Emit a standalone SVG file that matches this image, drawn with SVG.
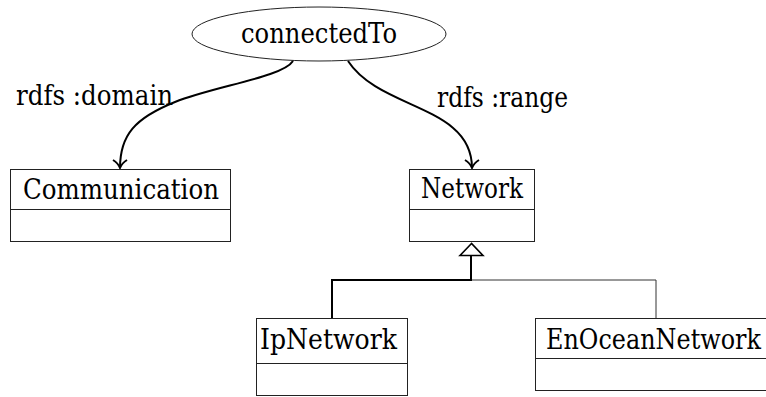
<svg xmlns="http://www.w3.org/2000/svg" width="766" height="397" viewBox="0 0 766 397">
<style>
.t{font-family:'DejaVu Serif','Liberation Serif',serif;font-size:27px;fill:#000}
.box{fill:#fff;stroke:#222;stroke-width:1}
.div{stroke:#222;stroke-width:1}
.assoc{fill:none;stroke:#000;stroke-width:2}
.thick{fill:none;stroke:#000;stroke-width:2}
.thin{fill:none;stroke:#333;stroke-width:1}
</style>
<defs>
<marker id="open" viewBox="0 0 10 16" refX="9" refY="8" markerWidth="10" markerHeight="16" markerUnits="userSpaceOnUse" orient="auto">
<path d="M1,1 Q4,6 9,8 Q4,10 1,15" fill="none" stroke="#000" stroke-width="2"/>
</marker>
</defs>
<g id="connectedTo">
<ellipse cx="319" cy="34" rx="127" ry="27" fill="#fff" stroke="#222" stroke-width="1"/>
<text class="t" x="241" y="43" textLength="156" lengthAdjust="spacingAndGlyphs">connectedTo</text>
</g>
<g id="Communication">
<rect class="box" x="10.5" y="169.5" width="220" height="72"/>
<line class="div" x1="10.5" y1="209.5" x2="230.5" y2="209.5"/>
<text class="t" x="23" y="199" textLength="196" lengthAdjust="spacingAndGlyphs">Communication</text>
</g>
<g id="Network">
<rect class="box" x="409.5" y="169.5" width="125" height="72"/>
<line class="div" x1="409.5" y1="209.5" x2="534.5" y2="209.5"/>
<text class="t" x="421" y="198" textLength="102" lengthAdjust="spacingAndGlyphs">Network</text>
</g>
<g id="IpNetwork">
<rect class="box" x="256.5" y="318.5" width="151" height="77"/>
<line class="div" x1="256.5" y1="363.5" x2="407.5" y2="363.5"/>
<text class="t" x="260" y="349" textLength="137" lengthAdjust="spacingAndGlyphs">IpNetwork</text>
</g>
<g id="EnOceanNetwork">
<rect class="box" x="535.5" y="318.5" width="240" height="72"/>
<line class="div" x1="535.5" y1="358.5" x2="775.5" y2="358.5"/>
<text class="t" x="546" y="349" textLength="215" lengthAdjust="spacingAndGlyphs">EnOceanNetwork</text>
</g>
<g id="connectors">
<path class="assoc" d="M293,61 C283,77 215,86 175,102 C135,118 120,135 120,168" marker-end="url(#open)"/>
<path class="assoc" d="M348,61 C380,110 472,105 472,168" marker-end="url(#open)"/>
<text class="t" x="16" y="105" textLength="157" lengthAdjust="spacingAndGlyphs">rdfs :domain</text>
<text class="t" x="437" y="107" textLength="131" lengthAdjust="spacingAndGlyphs">rdfs :range</text>
<path class="thin" d="M471,280 H656 V318"/>
<path class="thick" d="M332,318 V280 H471 V255"/>
<polygon points="471.5,243.5 460,255.5 483,255.5" fill="#fff" stroke="#000" stroke-width="1.6"/>
</g>
</svg>
